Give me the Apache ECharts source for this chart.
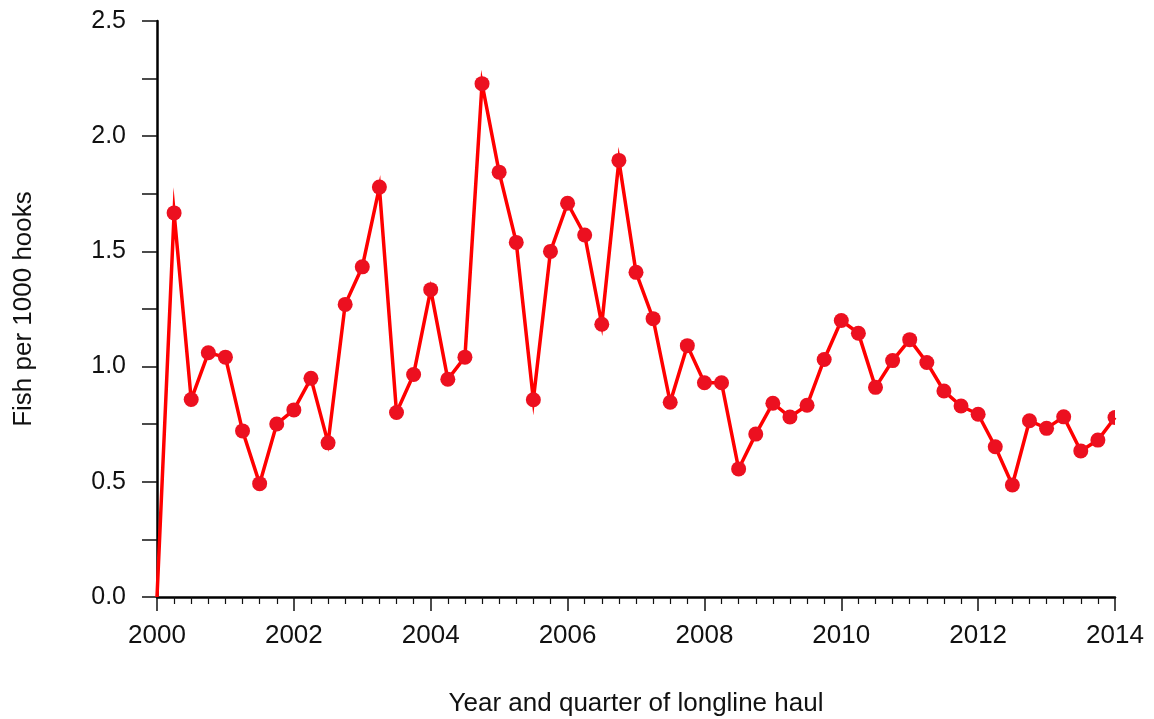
<!DOCTYPE html>
<html>
<head>
<meta charset="utf-8">
<script src="https://cdn.jsdelivr.net/npm/echarts@6/dist/echarts.min.js"></script>
<style>
html,body{margin:0;padding:0;background:#fff;}
#chart{width:1154px;height:719px;}
</style>
</head>
<body>
<div id="chart"></div>
<script>
// Quarter of longline haul (decimal years)
const quarters = [
  2000.00, 2000.25, 2000.50, 2000.75,
  2001.00, 2001.25, 2001.50, 2001.75,
  2002.00, 2002.25, 2002.50, 2002.75,
  2003.00, 2003.25, 2003.50, 2003.75,
  2004.00, 2004.25, 2004.50, 2004.75,
  2005.00, 2005.25, 2005.50, 2005.75,
  2006.00, 2006.25, 2006.50, 2006.75,
  2007.00, 2007.25, 2007.50, 2007.75,
  2008.00, 2008.25, 2008.50, 2008.75,
  2009.00, 2009.25, 2009.50, 2009.75,
  2010.00, 2010.25, 2010.50, 2010.75,
  2011.00, 2011.25, 2011.50, 2011.75,
  2012.00, 2012.25, 2012.50, 2012.75,
  2013.00, 2013.25, 2013.50, 2013.75,
  2014.00
];
// Fish per 1000 hooks
const catchRate = [
  0.000, 1.667, 0.857, 1.060,
  1.041, 0.721, 0.492, 0.751,
  0.812, 0.949, 0.669, 1.270,
  1.433, 1.779, 0.801, 0.966,
  1.334, 0.945, 1.041, 2.228,
  1.844, 1.539, 0.856, 1.500,
  1.709, 1.571, 1.184, 1.895,
  1.409, 1.208, 0.845, 1.091,
  0.930, 0.930, 0.556, 0.707,
  0.841, 0.781, 0.832, 1.031,
  1.200, 1.145, 0.910, 1.026,
  1.117, 1.018, 0.894, 0.829,
  0.793, 0.652, 0.486, 0.765,
  0.732, 0.782, 0.634, 0.681,
  0.779
];
const yTickLabels = ['0.0', '0.5', '1.0', '1.5', '2.0', '2.5'];
const xTickLabels = ['2000', '2002', '2004', '2006', '2008', '2010', '2012', '2014'];
const xTitle = 'Year and quarter of longline haul';
const yTitle = 'Fish per 1000 hooks';

const FONT = '"Liberation Sans", Arial, Helvetica, sans-serif';
const lastIdx = quarters.length - 1;

const seriesData = quarters.map((q, i) => {
  const item = { value: [q, catchRate[i]] };
  if (i === 0) {
    item.symbolSize = 0;
  } else if (i === lastIdx) {
    // marker clipped at the right edge of the plot region
    item.symbol = 'path://M1 0 A1 1 0 0 0 1 2 Z';
    item.symbolSize = [7.5, 15];
    item.symbolOffset = [-3.75, 0];
  }
  return item;
});

const chart = echarts.init(document.getElementById('chart'), null, { renderer: 'canvas' });
chart.setOption({
  backgroundColor: '#ffffff',
  animation: false,
  grid: { left: 157, right: 39, top: 21, bottom: 122, containLabel: false, outerBoundsMode: 'none' },
  xAxis: {
    type: 'value',
    min: 2000, max: 2014, interval: 2,
    name: xTitle,
    nameLocation: 'middle',
    nameGap: 94,
    nameTextStyle: { fontFamily: FONT, fontSize: 26, color: '#111' },
    axisLine: { show: true, onZero: false, lineStyle: { color: '#000', width: 2.5 } },
    axisTick: { show: true, length: 14, lineStyle: { color: '#111', width: 1.5 } },
    minorTick: { show: true, splitNumber: 8, length: 7, lineStyle: { color: '#111', width: 1.2 } },
    splitLine: { show: false },
    minorSplitLine: { show: false },
    axisLabel: {
      margin: 26, fontFamily: FONT, fontSize: 26, color: '#111',
      formatter: v => { const s = String(Math.round(v)); return xTickLabels.includes(s) ? s : ''; }
    }
  },
  yAxis: {
    type: 'value',
    min: 0, max: 2.5, interval: 0.5,
    name: yTitle,
    nameLocation: 'middle',
    nameGap: 120,
    nameRotate: 90,
    nameTextStyle: { fontFamily: FONT, fontSize: 26, color: '#111' },
    axisLine: { show: true, onZero: false, lineStyle: { color: '#000', width: 2.5 } },
    axisTick: { show: true, length: 15, lineStyle: { color: '#111', width: 1.5 } },
    minorTick: { show: true, splitNumber: 2, length: 15, lineStyle: { color: '#111', width: 1.5 } },
    splitLine: { show: false },
    minorSplitLine: { show: false },
    axisLabel: {
      margin: 31, fontFamily: FONT, fontSize: 25, color: '#111',
      formatter: v => yTickLabels[Math.round(v / 0.5)] || ''
    }
  },
  series: [{
    type: 'line',
    data: seriesData,
    clip: true,
    symbol: 'circle',
    symbolSize: 15,
    showAllSymbol: true,
    z: 3,
    lineStyle: { color: '#ff0000', width: 3.5, join: 'miter', miterLimit: 30 },
    itemStyle: { color: '#ec1020', borderWidth: 0 },
    emphasis: { disabled: true }
  }]
});
</script>
</body>
</html>
